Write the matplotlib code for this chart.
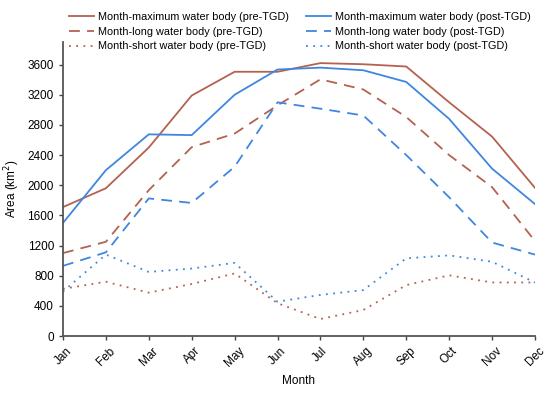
import matplotlib
matplotlib.use("Agg")
from matplotlib import pyplot as plt

plt.rcParams["font.family"] = ["Liberation Sans", "DejaVu Sans"]

months = ["Jan", "Feb", "Mar", "Apr", "May", "Jun", "Jul", "Aug", "Sep", "Oct", "Nov", "Dec"]

max_pre = [1710, 1960, 2500, 3190, 3505, 3505, 3620, 3605, 3575, 3100, 2645, 1965]
max_post = [1500, 2200, 2675, 2665, 3200, 3535, 3560, 3525, 3370, 2880, 2220, 1750]
long_pre = [1100, 1250, 1935, 2505, 2685, 3060, 3405, 3270, 2905, 2400, 1975, 1260]
long_post = [930, 1110, 1825, 1765, 2245, 3100, 3015, 2925, 2400, 1840, 1240, 1080]
short_pre = [625, 720, 575, 690, 830, 435, 225, 345, 675, 805, 710, 710]
short_post = [590, 1080, 850, 895, 970, 455, 545, 610, 1030, 1070, 985, 710]

pre_color = "#b5614f"
post_color = "#3f86e0"

fig = plt.figure(figsize=(5.5, 3.94), dpi=100)
ax = fig.add_axes([0.1145, 0.1472, 0.8582, 0.7462])

x = range(len(months))
ax.plot(x, max_pre, color=pre_color, lw=1.3, label="Month-maximum water body (pre-TGD)")
ax.plot(x, long_pre, color=pre_color, lw=1.3, ls=(0, (6, 4)), label="Month-long water body (pre-TGD)")
ax.plot(x, short_pre, color=pre_color, lw=1.3, ls=(0, (1, 3)), label="Month-short water body (pre-TGD)")
ax.plot(x, max_post, color=post_color, lw=1.3, label="Month-maximum water body (post-TGD)")
ax.plot(x, long_post, color=post_color, lw=1.3, ls=(0, (6, 4)), label="Month-long water body (post-TGD)")
ax.plot(x, short_post, color=post_color, lw=1.3, ls=(0, (1, 3)), label="Month-short water body (post-TGD)")

ax.set_xlim(0, len(months) - 1)
ax.set_ylim(0, 3900)
ax.set_yticks(range(0, 3601, 400))
ax.set_xticks(list(x))
ax.set_xticklabels(months, rotation=45, ha="center", fontsize=8.5)
ax.tick_params(axis="y", labelsize=8.5)
ax.tick_params(direction="out", length=3, width=1, color="#444444")
ax.set_xlabel("Month", fontsize=8.5)
ax.set_ylabel("Area (km$^2$)", fontsize=8.5)

for side in ["top", "right"]:
    ax.spines[side].set_visible(False)
for side in ["left", "bottom"]:
    ax.spines[side].set_color("#555555")
    ax.spines[side].set_linewidth(1.3)

fig.legend(loc="upper left", bbox_to_anchor=(0.108, 0.995), ncol=2, frameon=False,
           fontsize=7.8, handlelength=2.3, columnspacing=1.6, labelspacing=0.45,
           handletextpad=0.35)

fig.savefig("out.png", dpi=100)
